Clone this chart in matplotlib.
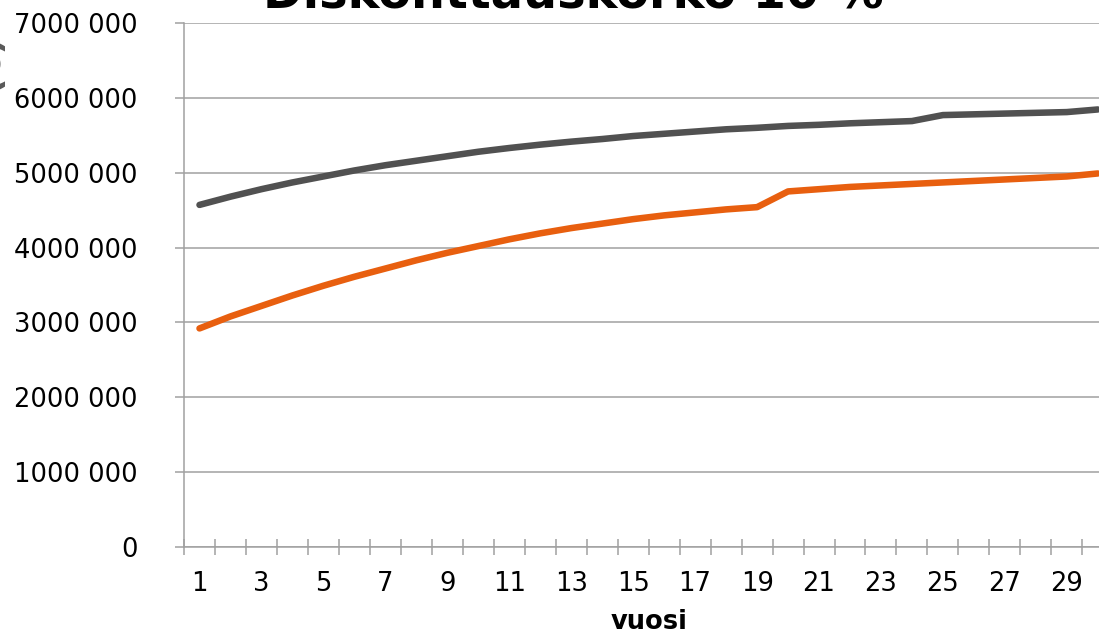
import numpy as np
import matplotlib
matplotlib.use("Agg")
import matplotlib.pyplot as plt
from matplotlib.ticker import FixedLocator, FuncFormatter

# vuodet 1..30
years = np.arange(1, 31)

# nykyarvo, harmaa sarja (milj. euroa)
gray_vals = [4.57, 4.68, 4.78, 4.87, 4.95, 5.03, 5.10, 5.16, 5.22, 5.28,
             5.33, 5.375, 5.415, 5.45, 5.49, 5.52, 5.55, 5.58, 5.60, 5.625,
             5.64, 5.66, 5.675, 5.69, 5.77, 5.78, 5.79, 5.80, 5.81, 5.845]

# nykyarvo, oranssi sarja (milj. euroa)
orange_vals = [2.92, 3.08, 3.22, 3.36, 3.49, 3.61, 3.72, 3.83, 3.93, 4.02,
               4.11, 4.19, 4.26, 4.32, 4.38, 4.43, 4.47, 4.51, 4.54, 4.75,
               4.78, 4.81, 4.83, 4.85, 4.87, 4.89, 4.91, 4.93, 4.95, 4.99]

title = "Diskonttauskorko 10 %"
xlabel = "vuosi"
ylabel = "(€)"

W, H = 1099, 634
fig = plt.figure(figsize=(W / 100, H / 100), dpi=100)

left, right, bottom, top = 184, 1113.3, 547, 23
ax = fig.add_axes([left / W, 1 - bottom / H, (right - left) / W, (bottom - top) / H])

grid_c = "#a0a0a0"
ax.plot(years, np.array(gray_vals) * 1e6, color="#515151", lw=4.7,
        solid_capstyle="round", solid_joinstyle="round", zorder=3)
ax.plot(years, np.array(orange_vals) * 1e6, color="#e85f0f", lw=4.7,
        solid_capstyle="round", solid_joinstyle="round", zorder=3)

ax.set_xlim(0.5, 30.5)
ax.set_ylim(0, 7e6)

ax.yaxis.set_major_locator(FixedLocator(np.arange(0, 7.01e6, 1e6)))
ax.yaxis.set_major_formatter(FuncFormatter(
    lambda v, p: "0" if v == 0 else f"{int(round(v / 1000))} 000"))
ax.grid(axis="y", color=grid_c, lw=1.1)
ax.set_axisbelow(True)

ax.xaxis.set_major_locator(FixedLocator(years[::2]))
ax.xaxis.set_minor_locator(FixedLocator(np.arange(0.5, 31, 1)))
ax.tick_params(axis="x", which="major", length=0, pad=17, labelsize=18.5)
ax.tick_params(axis="x", which="minor", length=11, direction="inout",
               color=grid_c, width=1.1)
ax.tick_params(axis="y", length=6.5, width=1.1, color=grid_c, pad=27,
               labelsize=18.5)

for s in ("top", "right"):
    ax.spines[s].set_visible(False)
for s in ("left", "bottom"):
    ax.spines[s].set_color(grid_c)
    ax.spines[s].set_linewidth(1.1)

ax.set_xlabel(xlabel, fontsize=18.5, fontweight="bold", labelpad=9)

fig.text(573 / W, 1 - 7 / H, title, ha="center", va="baseline",
         fontsize=34.5, fontweight="bold")
fig.text(5 / W, 1 - 62 / H, ylabel, rotation=90, ha="right", va="center",
         fontsize=26, fontweight="bold", color="#595959")

fig.savefig("out.png", dpi=100)
